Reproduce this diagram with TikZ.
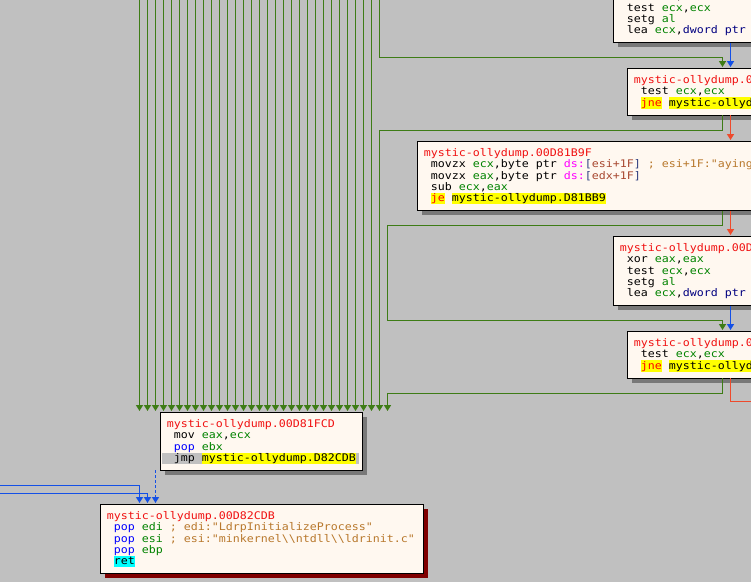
\documentclass[tikz,border=0pt]{standalone}
\usepackage{fontspec}
\usetikzlibrary{arrows.meta,shadows}

\newfontfamily\asmfont[FakeStretch=1.1073]{DejaVu Sans Mono}
\newcommand\asmtext{\asmfont\fontsize{10.5pt}{11.2pt}\selectfont}

\definecolor{canvas}{HTML}{C0C0C0}
\definecolor{nodebg}{HTML}{FFF8F0}
\definecolor{shadowgray}{HTML}{787878}
\definecolor{shadowred}{HTML}{800000}
\definecolor{truegreen}{HTML}{3E7C16}
\definecolor{falsered}{HTML}{EE4A2C}
\definecolor{jmpblue}{HTML}{1450E6}
\definecolor{addrred}{HTML}{F01010}
\definecolor{reggreen}{HTML}{008300}
\definecolor{popblue}{HTML}{0000FF}
\definecolor{segpink}{HTML}{FF00FF}
\definecolor{brkblue}{HTML}{304080}
\definecolor{memred}{HTML}{A84830}
\definecolor{cmtbrown}{HTML}{B8782C}
\definecolor{sizeblue}{HTML}{000080}
\definecolor{lblyellow}{HTML}{FFFF00}
\definecolor{retcyan}{HTML}{00FFFF}
\definecolor{selgray}{HTML}{C0C0C0}

% one text row of a block
\newcommand\cellstrut{\rule[-2.6pt]{0pt}{11.2pt}}
\newcommand\asmline[1]{\mbox{\cellstrut#1}}
\newcommand\ind{\hspace*{7pt}}
\newcommand\hl[2]{{\setlength{\fboxsep}{0pt}\colorbox{#1}{\cellstrut#2}}}
% tokens
\newcommand\addr[1]{\textcolor{addrred}{#1}}
\newcommand\reg[1]{\textcolor{reggreen}{#1}}
\newcommand\stk[1]{\textcolor{popblue}{#1}}
\newcommand\seg[1]{\textcolor{segpink}{#1}}
\newcommand\brk[1]{\textcolor{brkblue}{#1}}
\newcommand\mem[1]{\textcolor{memred}{#1}}
\newcommand\cmt[1]{\textcolor{cmtbrown}{#1}}
\newcommand\ptrsize[1]{\textcolor{sizeblue}{#1}}
\newcommand\jcc[1]{\hl{lblyellow}{\textcolor{red}{#1}}}
\newcommand\lbl[1]{\hl{lblyellow}{#1}}
\newcommand\bsl{\textbackslash}

\begin{document}
\begin{tikzpicture}[x=1pt,y=-1pt,
  basic block/.style={rectangle,draw=black,line width=1pt,fill=nodebg,outer sep=0pt,
    anchor=north west,align=left,text width=#1,inner xsep=6.4pt,inner ysep=6.5pt,
    font=\asmtext,execute at begin node={\setlength{\parindent}{0pt}%
      \frenchspacing\spaceskip=7pt\relax\xspaceskip=7pt\relax}},
  box shadow/.style={drop shadow={shadow xshift=4.5pt,shadow yshift=-4.5pt,
    opacity=1,fill=#1}},
  block/.style={basic block=#1,box shadow=shadowgray},
  block/.default=330pt,
  current block/.style={basic block=#1,box shadow=shadowred},
  flow/.style={line width=1.4pt,-{Triangle[width=7pt,length=6pt]},shorten >=1.5pt}]

  \useasboundingbox[fill=canvas] (0,0) rectangle (751,582);

  % blocks
  \node[block,anchor=south west] (A1) at (613.5,42.5) {%
    \asmline{\ind xor \reg{eax},\reg{eax}}\\
    \asmline{\ind test \reg{ecx},\reg{ecx}}\\
    \asmline{\ind setg \reg{al}}\\
    \asmline{\ind lea \reg{ecx},\ptrsize{dword ptr}}};

  \node[block] (A2) at (627.5,68.5) {%
    \asmline{\addr{mystic-ollydump.0}}\\
    \asmline{\ind test \reg{ecx},\reg{ecx}}\\
    \asmline{\ind\jcc{jne} \lbl{mystic-ollyd}}};

  \node[block] (B) at (417.5,141.5) {%
    \asmline{\addr{mystic-ollydump.00D81B9F}}\\
    \asmline{\ind movzx \reg{ecx},byte ptr \seg{ds:}\brk{[}\mem{esi+1F}\brk{]} \cmt{; esi+1F:"aying}}\\
    \asmline{\ind movzx \reg{eax},byte ptr \seg{ds:}\brk{[}\mem{edx+1F}\brk{]}}\\
    \asmline{\ind sub \reg{ecx},\reg{eax}}\\
    \asmline{\ind\jcc{je} \lbl{mystic-ollydump.D81BB9}}};

  \node[block] (C) at (613.5,236.5) {%
    \asmline{\addr{mystic-ollydump.00D}}\\
    \asmline{\ind xor \reg{eax},\reg{eax}}\\
    \asmline{\ind test \reg{ecx},\reg{ecx}}\\
    \asmline{\ind setg \reg{al}}\\
    \asmline{\ind lea \reg{ecx},\ptrsize{dword ptr}}};

  \node[block] (D) at (627.5,331.5) {%
    \asmline{\addr{mystic-ollydump.0}}\\
    \asmline{\ind test \reg{ecx},\reg{ecx}}\\
    \asmline{\ind\jcc{jne} \lbl{mystic-ollyd}}};

  \node[block=189.2pt] (E) at (160.5,412.5) {%
    \asmline{\addr{mystic-ollydump.00D81FCD}}\\
    \asmline{\ind mov \reg{eax},\reg{ecx}}\\
    \asmline{\ind\stk{pop} \reg{ebx}}\\
    \asmline{\hspace*{-4.6pt}\hl{selgray}{\hspace*{4.6pt}\ind jmp \lbl{mystic-ollydump.D82CDB}\hspace*{3pt}}}};

  \node[current block=309.8pt] (F) at (100.5,504.5) {%
    \asmline{\addr{mystic-ollydump.00D82CDB}}\\
    \asmline{\ind\stk{pop} \reg{edi} \cmt{; edi:"LdrpInitializeProcess"}}\\
    \asmline{\ind\stk{pop} \reg{esi} \cmt{; esi:"minkernel\bsl\bsl ntdll\bsl\bsl ldrinit.c"}}\\
    \asmline{\ind\stk{pop} \reg{ebp}}\\
    \asmline{\ind\hl{retcyan}{ret}}};

  % edges
  \foreach \k in {0,...,29}
    \draw[flow,truegreen] (139.5+8*\k,-2) coordinate (src\k) -- (src\k |- E.north);
  \coordinate (src30) at (379.5,-2);
  \draw[flow,truegreen] (src30) |- (722.5,57.5) -- (722.5,0 |- A2.north);

  \draw[flow,jmpblue] (730.5,0 |- A1.south) -- (730.5,0 |- A2.north);
  \draw[flow,truegreen] (722.5,0 |- A2.south) |- (379.5,130.5) -- (379.5,0 |- E.north);
  \draw[flow,falsered] (730.5,0 |- A2.south) -- (730.5,0 |- B.north);
  \draw[flow,truegreen] (722.5,0 |- B.south) |- (387.5,225.5) |- (722.5,320.5) -- (722.5,0 |- D.north);
  \draw[flow,falsered] (730.5,0 |- B.south) -- (730.5,0 |- C.north);
  \draw[flow,jmpblue] (730.5,0 |- C.south) -- (730.5,0 |- D.north);
  \draw[flow,truegreen] (722.5,0 |- D.south) |- (387.5,393.5) -- (387.5,0 |- E.north);
  \coordinate (exit) at (760,401.5);
  \draw[line width=1.4pt,falsered] (730.5,0 |- D.south) |- (exit);

  \coordinate (in0) at (-2,485.5);
  \coordinate (in1) at (-2,493.5);
  \draw[flow,jmpblue] (in0) -| (139.5,0 |- F.north);
  \draw[flow,jmpblue] (in1) -| (147.5,0 |- F.north);
  \draw[flow,jmpblue,dash pattern=on 3pt off 2pt] (155.5,0 |- E.south) -- (155.5,0 |- F.north);
\end{tikzpicture}
\end{document}
